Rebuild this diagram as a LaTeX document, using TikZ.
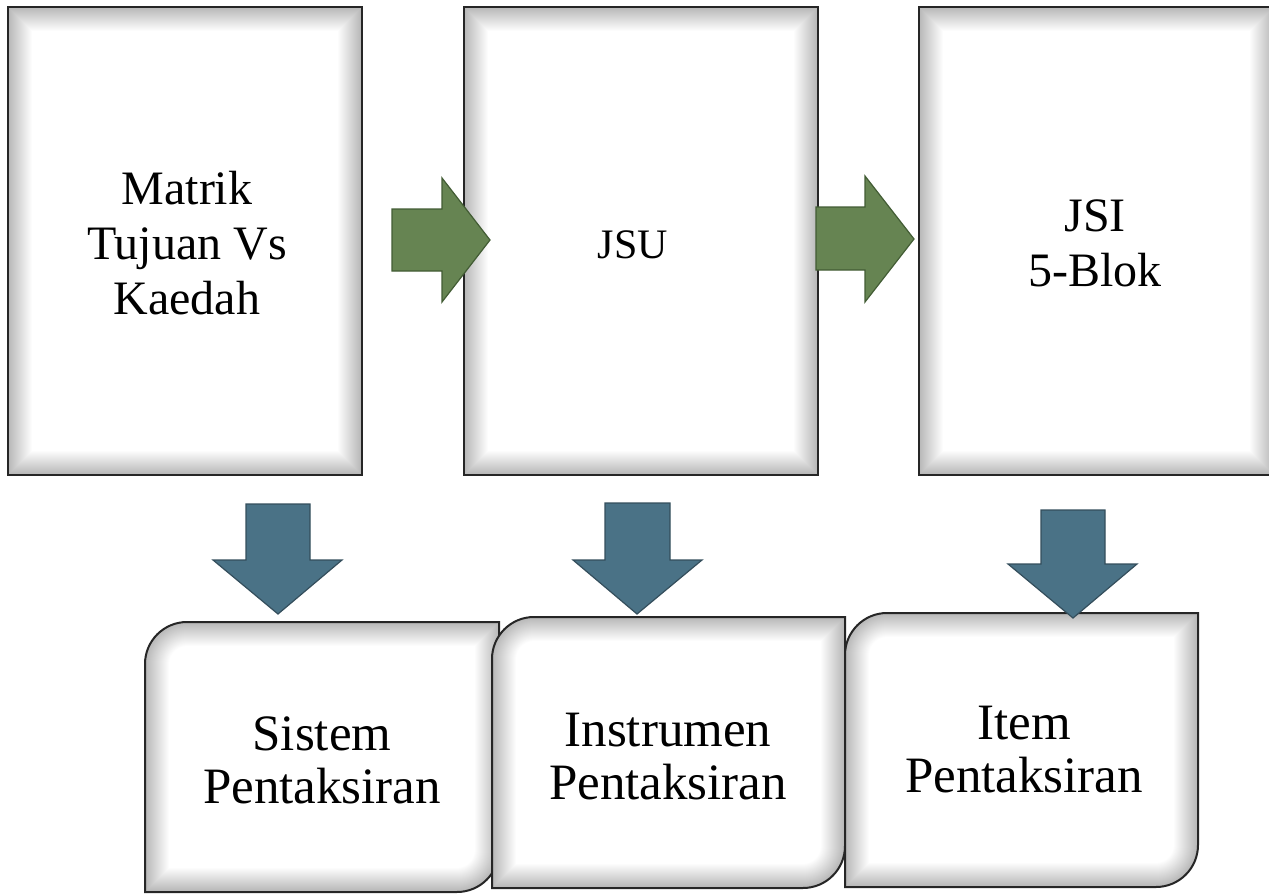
\documentclass[tikz,border=0pt]{standalone}
\usepackage{fontspec}
\setmainfont{Liberation Serif}
\usepackage{tikz}
\usetikzlibrary{calc}

\definecolor{leaf}{RGB}{102,132,82}
\definecolor{leafdark}{RGB}{66,92,52}
\definecolor{slate}{RGB}{74,114,134}
\definecolor{slatedark}{RGB}{52,78,92}

\tikzset{
  boxtext/.style={align=center, font=\fontsize{24}{27.5}\selectfont},
  tabtext/.style={align=center, font=\fontsize{25.5}{26.5}\selectfont},
  smalltext/.style={align=center, font=\fontsize{21}{24}\selectfont},
  boxline/.style={draw=black!85, line width=1pt},
  greenarrow/.style={fill=leaf, draw=leafdark, line width=0.6pt},
  bluearrow/.style={fill=slate, draw=slatedark, line width=0.6pt}
}

% tall box with soft inner shadow
\newcommand{\tallbox}[4]{%
  \begin{scope}
    \clip (#1,#2) rectangle (#3,#4);
    \fill[white] (#1,#2) rectangle (#3,#4);
    \foreach \k in {1,...,24}
      \draw[line width=\k pt, black, opacity=0.012] (#1,#2) rectangle (#3,#4);
  \end{scope}
  \draw[boxline] (#1,#2) rectangle (#3,#4);
}

% box with round top-left and bottom-right corners
\newcommand{\tabbox}[5]{%
  \begin{scope}
    \clip (#1,#4) -- (#1,#2+#5) arc[start angle=180, end angle=270, radius=#5]
      -- (#3,#2) -- (#3,#4-#5) arc[start angle=0, end angle=90, radius=#5] -- cycle;
    \fill[white] (#1,#2) rectangle (#3,#4);
    \foreach \k in {1,...,24}
      \draw[line width=\k pt, black, opacity=0.012] (#1,#4) -- (#1,#2+#5)
        arc[start angle=180, end angle=270, radius=#5] -- (#3,#2) -- (#3,#4-#5)
        arc[start angle=0, end angle=90, radius=#5] -- cycle;
  \end{scope}
  \draw[boxline] (#1,#4) -- (#1,#2+#5) arc[start angle=180, end angle=270, radius=#5]
    -- (#3,#2) -- (#3,#4-#5) arc[start angle=0, end angle=90, radius=#5] -- cycle;
}

\begin{document}
\begin{tikzpicture}[x=0.5pt, y=-0.5pt]
\useasboundingbox (0,0) rectangle (1269,894);

% top row
\tallbox{8}{7}{362}{475}
\tallbox{464}{7}{818}{475}
\tallbox{919}{7}{1274}{475}

\node[boxtext] (matrik) at (187,243) {Matrik\\Tujuan Vs\\Kaedah};
\node[smalltext] (jsu) at (633,245) {JSU};
\node[boxtext] (jsi) at (1095,243) {JSI\\5-Blok};

% bottom row
\tabbox{145}{622}{499}{892}{42}
\tabbox{492}{617}{845}{888}{42}
\tabbox{845}{613}{1198}{887}{42}

\node[tabtext] (sistem) at (322,760) {Sistem\\Pentaksiran};
\node[tabtext] (instrumen) at (668,757) {Instrumen\\Pentaksiran};
\node[tabtext] (item) at (1024,750) {Item\\Pentaksiran};

% right arrows
\path[greenarrow] (392,209) -- (442,209) -- (442,178) -- (490,240)
  -- (442,302) -- (442,271) -- (392,271) -- cycle;
\path[greenarrow] (816,207) -- (865,207) -- (865,176) -- (914,239)
  -- (865,302) -- (865,270) -- (816,270) -- cycle;

% down arrows
\path[bluearrow] (246,504) -- (310,504) -- (310,560) -- (342,560)
  -- (278,614) -- (213,560) -- (246,560) -- cycle;
\path[bluearrow] (605,503) -- (670,503) -- (670,560) -- (702,560)
  -- (637,614) -- (573,560) -- (605,560) -- cycle;
\path[bluearrow] (1041,510) -- (1105,510) -- (1105,564) -- (1137,564)
  -- (1073,618) -- (1008,564) -- (1041,564) -- cycle;
\end{tikzpicture}
\end{document}
